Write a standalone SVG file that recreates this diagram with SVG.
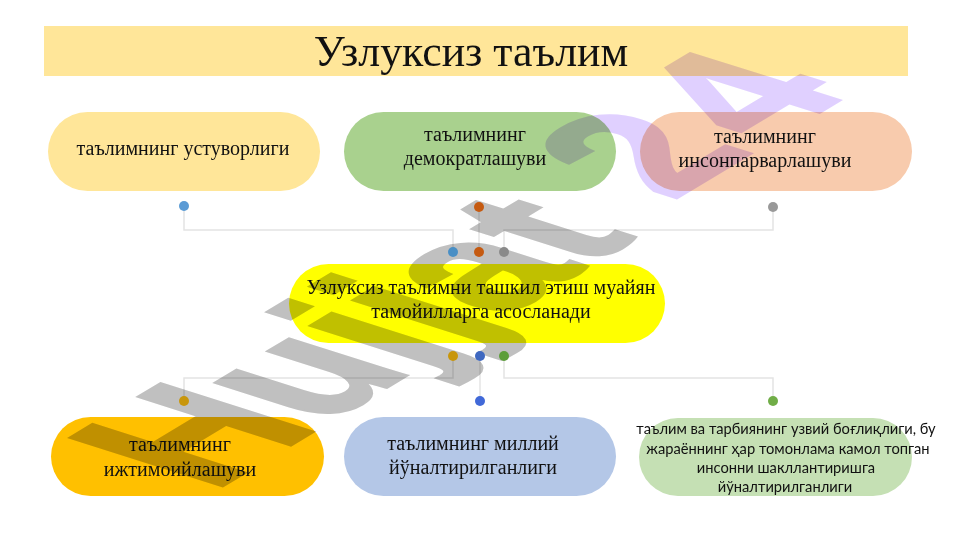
<svg xmlns="http://www.w3.org/2000/svg" width="961" height="540" viewBox="0 0 961 540">
<style>
text{font-family:"Liberation Serif","Noto Sans CJK SC",serif;fill:#111;text-anchor:middle;font-size:20px}
.small{font-family:Lato,"Open Sans","Noto Sans",sans-serif;font-size:14.7px}
.line{fill:none;stroke:#e4e4e4;stroke-width:1.5}
.wm{font-family:"Liberation Sans",sans-serif;font-weight:700;font-size:100px;text-anchor:start;mix-blend-mode:multiply;stroke-width:2}
</style>
<rect width="961" height="540" fill="#fff"/>
<g id="title"><rect x="44" y="26" width="864" height="50" fill="#ffe699"/><text x="471" y="66" style="font-size:43.8px">Узлуксиз таълим</text></g>
<g id="connectors" class="line">
<path d="M184 206V230H453V252"/><path d="M479 206V252"/><path d="M773 206V230H504V252"/>
<path d="M453 356V378H184V401"/><path d="M480 356V401"/><path d="M504 356V378H773V401"/>
</g>
<g id="node-1"><rect x="48" y="112" width="272" height="79" rx="39.5" fill="#ffe699"/><text x="183" y="155">таълимнинг устуворлиги</text></g>
<g id="node-2"><rect x="344" y="112" width="272" height="79" rx="39.5" fill="#a9d18e"/><text x="475" y="141">таълимнинг</text><text x="475" y="165">демократлашуви</text></g>
<g id="node-3"><rect x="640" y="112" width="272" height="79" rx="39.5" fill="#f8cbad"/><text x="765" y="143">таълимнинг</text><text x="765" y="167">инсонпарварлашуви</text></g>
<g id="node-center"><rect x="289" y="264" width="376" height="79" rx="39.5" fill="#ffff00"/><text x="481" y="294">Узлуксиз таълимни ташкил этиш муайян</text><text x="481" y="318">тамойилларга асосланади</text></g>
<g id="node-4"><rect x="51" y="417" width="273" height="79" rx="39.5" fill="#ffc000"/><text x="180" y="451">таълимнинг</text><text x="180" y="476">ижтимоийлашуви</text></g>
<g id="node-5"><rect x="344" y="417" width="272" height="79" rx="39.5" fill="#b4c7e7"/><text x="473" y="450">таълимнинг миллий</text><text x="473" y="474">йўналтирилганлиги</text></g>
<g id="node-6"><rect x="639" y="418" width="273" height="78" rx="39" fill="#c5e0b4"/><text class="small" x="786" y="434">таълим ва тарбиянинг узвий боғлиқлиги, бу</text><text class="small" x="788" y="454">жараённинг ҳар томонлама камол топган</text><text class="small" x="786" y="473">инсонни шакллантиришга</text><text class="small" x="785" y="492">йўналтирилганлиги</text></g>
<g id="watermark">
<text class="wm" style="fill:#c0c0c0;stroke:#c0c0c0" transform="matrix(1.535 -0.92 2.2 0.7 212 492)">Hujjat</text>
<text class="wm" style="fill:#e0d0ff;stroke:#e0d0ff" transform="matrix(1.535 -0.92 2.16 0.68 671 201)"><tspan letter-spacing="8">2</tspan>4</text>
</g>
<g id="dots">
<circle cx="184" cy="206" r="5" fill="#5b9bd5"/><circle cx="479" cy="207" r="5" fill="#c55a11"/><circle cx="773" cy="207" r="5" fill="#999"/>
<circle cx="453" cy="252" r="5" fill="#4a8fc5"/><circle cx="479" cy="252" r="5" fill="#c55a11"/><circle cx="504" cy="252" r="5" fill="#8a8a8a"/>
<circle cx="453" cy="356" r="5" fill="#c8960c"/><circle cx="480" cy="356" r="5" fill="#3f68c0"/><circle cx="504" cy="356" r="5" fill="#5c9e3a"/>
<circle cx="184" cy="401" r="5" fill="#c8960c"/><circle cx="480" cy="401" r="5" fill="#4169d8"/><circle cx="773" cy="401" r="5" fill="#70ad47"/>
</g>
</svg>
